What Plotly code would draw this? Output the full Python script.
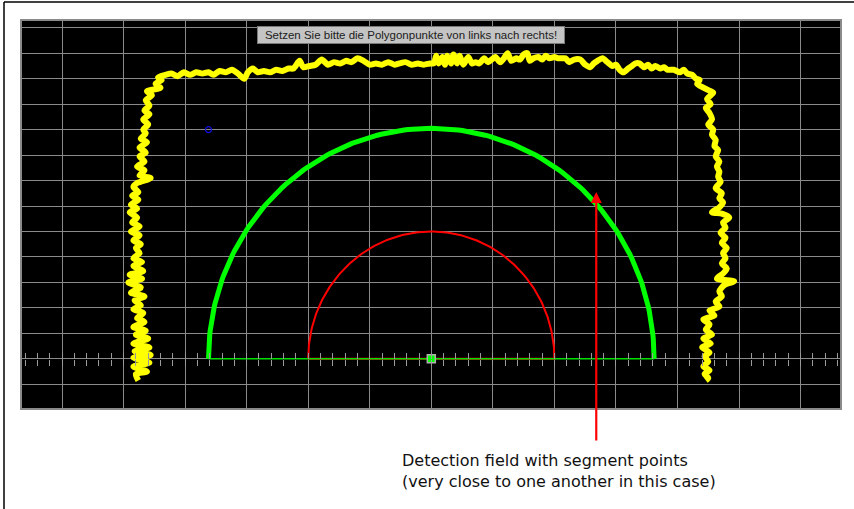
import numpy as np
import plotly.graph_objects as go

# ---------------- data (cm, scanner coordinate system) ----------------
# yellow: measured contour (left side bottom->top, top left->right, right side top->bottom)
contour_x = [
    -238, -240, -231, -242, -229, -242, -228, -241, -229, -242, -230, -240, -232, -242, -233, -239,
    -234, -242, -236, -241, -233, -244, -236, -246, -235, -245, -234, -242, -235, -242, -237, -240,
    -236, -242, -237, -244, -237, -243, -239, -245, -239, -244, -238, -243, -238, -242, -239, -228,
    -237, -233, -239, -233, -237, -232, -237, -231, -236, -232, -234, -230, -234, -229, -233, -229,
    -232, -227, -231, -220, -224, -219, -222, -216, -211,
    -206, -201, -196, -191, -186, -181, -177, -172, -167, -162, -157, -152, -149, -145, -141, -136,
    -131, -126, -121, -116, -112, -107, -104, -99, -94, -89, -84, -79, -74, -69, -65, -60,
    -55, -50, -45, -40, -35, -30, -26, -21, -16, -11, -6, -1, 2, 4, 6, 9,
    11, 13, 16, 18, 21, 23, 26, 30, 33, 36, 39, 43, 46, 49, 52, 56,
    59, 62, 65, 69, 72, 75, 78, 80, 83, 87, 90, 93, 96, 100, 103, 106,
    109, 112, 116, 121, 125, 129, 132, 135, 139, 143, 147, 150, 153, 156, 160, 163,
    166, 169, 173, 176, 179, 182, 186, 189, 192, 197, 202, 205, 208, 212, 215, 218,
    216, 221, 225, 229,
    224, 227, 223, 226, 228, 225, 229, 228, 231, 230, 233, 231, 234, 232, 234, 233,
    235, 231, 236, 234, 237, 234, 228, 236, 242, 237, 239, 235, 239, 236, 240, 237,
    239, 236, 240, 237, 232, 246, 238, 234, 236, 231, 234, 226, 230, 221, 226, 223,
    228, 221, 227, 220, 226, 222, 225, 221, 226, 222, 225, 223,
]
contour_y = [
    -17, -12, -10, -6, -3, 1, 3, 6, 9, 12, 16, 19, 22, 25, 29, 32,
    36, 39, 42, 46, 49, 52, 56, 60, 63, 66, 69, 73, 76, 79, 83, 87,
    90, 93, 97, 100, 104, 107, 111, 115, 118, 121, 125, 128, 131, 135, 138, 142,
    144, 148, 151, 155, 159, 162, 166, 170, 173, 177, 180, 184, 188, 192, 195, 199,
    203, 207, 210, 213, 216, 219, 221, 223, 224,
    222, 225, 223, 225, 224, 225, 223, 226, 225, 227, 224, 220, 225, 228, 225, 226,
    225, 227, 226, 228, 228, 234, 229, 230, 231, 235, 231, 233, 232, 234, 233, 236,
    234, 231, 232, 231, 233, 231, 232, 233, 231, 232, 231, 232, 232, 238, 232, 237,
    231, 238, 232, 239, 232, 238, 231, 237, 232, 233, 232, 236, 233, 235, 237, 233,
    236, 240, 234, 236, 235, 239, 240, 234, 236, 237, 235, 238, 236, 237, 236, 236,
    236, 233, 235, 235, 231, 229, 232, 234, 236, 233, 230, 231, 227, 225, 228, 230,
    232, 232, 229, 231, 228, 230, 228, 229, 227, 227, 225, 227, 224, 223, 220, 219,
    216, 213, 211, 209,
    204, 200, 197, 193, 188, 184, 180, 176, 172, 167, 164, 159, 155, 151, 147, 143,
    139, 134, 130, 126, 123, 119, 115, 114, 111, 107, 103, 99, 95, 91, 87, 83,
    79, 75, 71, 67, 63, 61, 58, 53, 49, 45, 41, 38, 34, 31, 27, 23,
    19, 16, 12, 9, 5, 2, -2, -6, -9, -12, -15, -17,
]

field_radius = 181      # green detection field radius (cm)
inner_radius = 100      # red field radius (cm)
origin = (0, 0)         # scanner position
marker_point = (-181, 180)  # blue marker

title_text = "Setzen Sie bitte die Polygonpunkte von links nach rechts!"
callout_text = "Detection field with segment points<br>(very close to one another in this case)"
callout_target = (134, 131)

x_range = [-332.5, 332.0]
y_range = [-38.6, 265.3]
grid_x = 50
grid_y = 20
baseline_tick = 10

# ---------------- figure ----------------
ang = np.linspace(np.pi, 0, 181)
gx = list(field_radius * np.cos(ang))
gy = list(field_radius * np.sin(ang))
rx = list(inner_radius * np.cos(ang)) + [-inner_radius]
ry = list(inner_radius * np.sin(ang)) + [0]

fig = go.Figure()
fig.add_trace(go.Scatter(x=contour_x, y=contour_y, mode="lines",
                         line=dict(color="#ffff00", width=6, shape="spline", smoothing=0.7),
                         hoverinfo="skip"))
fig.add_trace(go.Scatter(x=rx, y=ry, mode="lines",
                         line=dict(color="#ff0000", width=2), hoverinfo="skip"))
fig.add_trace(go.Scatter(x=[-field_radius, field_radius], y=[0, 0], mode="lines",
                         line=dict(color="#00e000", width=1.5), hoverinfo="skip"))
fig.add_trace(go.Scatter(x=gx, y=gy, mode="lines",
                         line=dict(color="#00ff00", width=5), hoverinfo="skip"))
fig.add_trace(go.Scatter(x=[origin[0]], y=[origin[1]], mode="markers",
                         marker=dict(symbol="square", size=8, color="#00ff00",
                                     line=dict(color="#b0b0b0", width=1.5)), hoverinfo="skip"))
fig.add_trace(go.Scatter(x=[marker_point[0]], y=[marker_point[1]], mode="markers",
                         marker=dict(symbol="circle-open", size=6, color="#1010e0",
                                     line=dict(width=1.2)), hoverinfo="skip"))

base_pos = (0 - y_range[0]) / (y_range[1] - y_range[0])

fig.update_layout(
    width=854, height=509, autosize=False,
    margin=dict(l=22, r=14, t=21, b=101, pad=0),
    paper_bgcolor="white", plot_bgcolor="black",
    showlegend=False,
    xaxis=dict(range=x_range, dtick=grid_x, tick0=0, showgrid=True, gridcolor="#8a8a8a",
               gridwidth=1.2, zeroline=False, showticklabels=False, ticks="",
               showline=True, mirror=True, linecolor="#8a8a8a", linewidth=1.5, fixedrange=True),
    yaxis=dict(range=y_range, dtick=grid_y, tick0=0, showgrid=True, gridcolor="#8a8a8a",
               gridwidth=1.2, zeroline=False, showticklabels=False, ticks="",
               showline=True, mirror=True, linecolor="#8a8a8a", linewidth=1.5, fixedrange=True),
    xaxis2=dict(overlaying="x", matches="x", range=x_range, anchor="free", position=base_pos,
                side="bottom", ticks="outside", ticklen=6, tickwidth=1, tickcolor="#9a9a9a",
                dtick=baseline_tick, tick0=0, showticklabels=False, showgrid=False,
                zeroline=False, showline=False),
    xaxis3=dict(overlaying="x", matches="x", range=x_range, anchor="free", position=base_pos,
                side="top", ticks="outside", ticklen=6, tickwidth=1, tickcolor="#9a9a9a",
                dtick=baseline_tick, tick0=0, showticklabels=False, showgrid=False,
                zeroline=False, showline=False),
    font=dict(family="Liberation Sans, Arial, sans-serif"),
)
# dummy traces to activate overlay axes
fig.add_trace(go.Scatter(x=[None], y=[None], xaxis="x2", showlegend=False))
fig.add_trace(go.Scatter(x=[None], y=[None], xaxis="x3", showlegend=False))

# title box
fig.add_annotation(xref="paper", yref="paper", x=0.4756, y=0.9638, text=title_text,
                   showarrow=False, font=dict(size=11.5, color="#202020",
                                              family="Liberation Sans, Arial, sans-serif"),
                   bgcolor="#c4c4c4", bordercolor="#7a7a7a", borderwidth=1, borderpad=1,
                   width=304, height=14, xanchor="center", yanchor="middle")

# callout arrow + text
fig.add_annotation(x=callout_target[0], y=callout_target[1], xref="x", yref="y",
                   ax=0, ay=250, showarrow=True, arrowhead=2, arrowsize=1, arrowwidth=2.2,
                   arrowcolor="#ff0000", text="")
fig.add_annotation(xref="paper", yref="paper", x=0.462, y=-0.105, xanchor="left", yanchor="top",
                   align="left", showarrow=False, text=callout_text,
                   font=dict(size=16, color="#111111", family="DejaVu Sans, sans-serif"))

# outer frame (top and left)
fig.add_shape(type="line", xref="paper", yref="paper", x0=-0.022, y0=1.049, x1=1.02, y1=1.049,
              line=dict(color="black", width=1.5))
fig.add_shape(type="line", xref="paper", yref="paper", x0=-0.022, y0=1.049, x1=-0.022, y1=-0.27,
              line=dict(color="black", width=1.5))

fig.write_html("out.html", config={"displayModeBar": False},
               post_script="document.body.style.margin='0';")
